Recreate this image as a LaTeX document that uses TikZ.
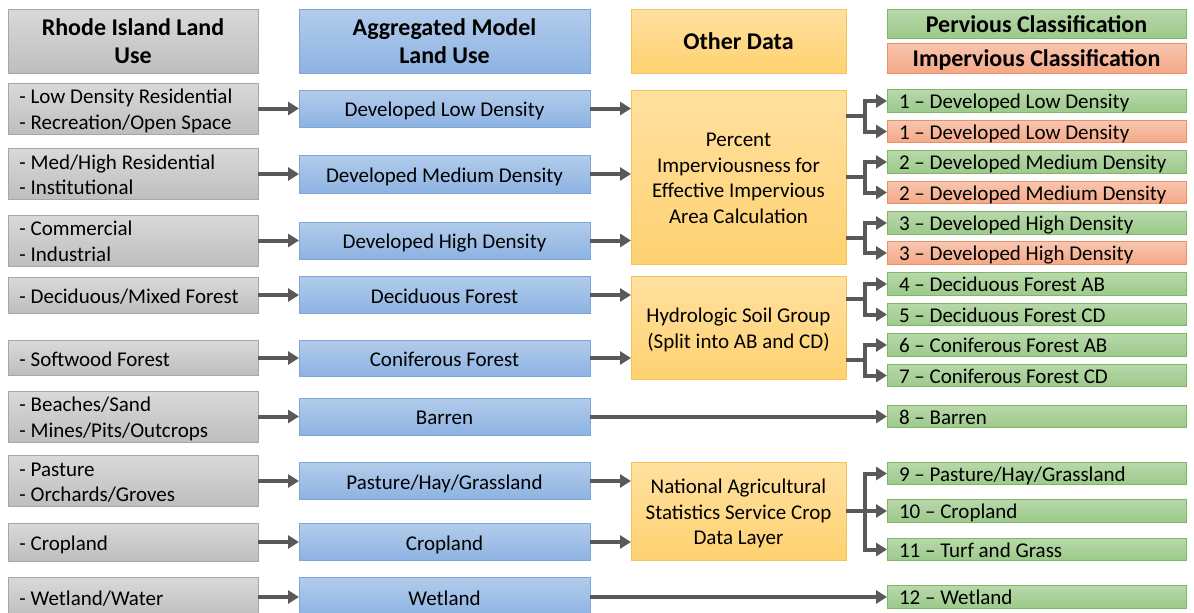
\documentclass[tikz,border=0pt]{standalone}
\usepackage{fontspec}
\setmainfont{Carlito}
\usetikzlibrary{arrows.meta,calc}

\definecolor{graytop}{HTML}{D9D9D9}
\definecolor{graybot}{HTML}{BEBEBE}
\definecolor{grayline}{HTML}{A6A6A6}
\definecolor{bluetop}{HTML}{B2CCEB}
\definecolor{bluebot}{HTML}{8DB3E2}
\definecolor{blueline}{HTML}{7EA6D6}
\definecolor{oratop}{HTML}{FFE09F}
\definecolor{orabot}{HTML}{FFD271}
\definecolor{oraline}{HTML}{F2C35B}
\definecolor{grntop}{HTML}{B8D8AA}
\definecolor{grnbot}{HTML}{9CC98A}
\definecolor{grnline}{HTML}{7FB765}
\definecolor{saltop}{HTML}{F8C6B0}
\definecolor{salbot}{HTML}{F4A886}
\definecolor{salline}{HTML}{E8906A}
\definecolor{arrowgray}{HTML}{595959}

% stacked lines, centred or flush left; the text is lowered a little
% inside an unchanged box so that it sits in the middle of its node
\newcommand\cstack[1]{\raisebox{-0.14em}[\height][\depth]{\begin{tabular}{@{}c@{}}#1\end{tabular}}}
\newcommand\lstack[1]{\raisebox{-0.14em}[\height][\depth]{\begin{tabular}{@{}l@{}}#1\end{tabular}}}

\tikzset{
  box/.style={line width=1pt, inner sep=0pt, outer sep=0pt,
    font=\fontsize{21}{25.5}\selectfont},
  head/.style={font=\fontsize{24}{28}\selectfont\bfseries},
  graycol/.style={box, draw=grayline, top color=graytop, bottom color=graybot, minimum width=250pt},
  bluecol/.style={box, draw=blueline, top color=bluetop, bottom color=bluebot, minimum width=291pt},
  orangecol/.style={box, draw=oraline, top color=oratop, bottom color=orabot, minimum width=215pt},
  greencol/.style={box, draw=grnline, top color=grntop, bottom color=grnbot, minimum width=299pt},
  salmoncol/.style={box, draw=salline, top color=saltop, bottom color=salbot, minimum width=299pt},
  srclist/.style={align=flush left, text width=227pt},
  classlist/.style={align=flush left, text width=275pt, text height=19pt, text depth=3.5pt,
    minimum height=22.5pt},
  stem/.style={draw=arrowgray, line width=4pt},
  conn/.style={stem, -{Triangle[length=11pt,width=13pt]}},
}

\begin{document}
\begin{tikzpicture}[x=1pt,y=-1pt]
\clip (0,0) rectangle (1194,613);
\fill[white] (0,0) rectangle (1194,613);

% column headers
\node[graycol, minimum height=64pt, head] (hRI) at (133,41) {\cstack{Rhode Island Land\\Use}};
\node[bluecol, minimum height=64pt, head] (hAM) at (444.5,41) {\cstack{Aggregated Model\\Land Use}};
\node[orangecol, minimum height=64pt, head] (hOD) at (738.5,41) {\cstack{Other Data}};
\node[greencol, minimum height=29pt, head] (hPC) at (1036.5,23.5) {\cstack{Pervious Classification}};
\node[salmoncol, minimum height=30pt, head] (hIC) at (1036.5,58) {\cstack{Impervious Classification}};

% Rhode Island land use classes
\node[graycol, srclist, minimum height=49pt] (g1) at (133,108.5) {\lstack{- Low Density Residential\\- Recreation/Open Space}};
\node[graycol, srclist, minimum height=50pt] (g2) at (133,174) {\lstack{- Med/High Residential\\- Institutional}};
\node[graycol, srclist, minimum height=49pt] (g3) at (133,240.5) {\lstack{- Commercial\\- Industrial}};
\node[graycol, srclist, minimum height=36pt] (g4) at (133,295) {\lstack{- Deciduous/Mixed Forest}};
\node[graycol, srclist, minimum height=35pt] (g5) at (133,358) {\lstack{- Softwood Forest}};
\node[graycol, srclist, minimum height=49pt] (g6) at (133,416.5) {\lstack{- Beaches/Sand\\- Mines/Pits/Outcrops}};
\node[graycol, srclist, minimum height=49pt] (g7) at (133,481) {\lstack{- Pasture\\- Orchards/Groves}};
\node[graycol, srclist, minimum height=38pt] (g8) at (133,542) {\lstack{- Cropland}};
\node[graycol, srclist, minimum height=40pt] (g9) at (133,597) {\lstack{- Wetland/Water}};

% aggregated model land use
\node[bluecol, minimum height=37pt] (b1) at (444.5,108.5) {\cstack{Developed Low Density}};
\node[bluecol, minimum height=38pt] (b2) at (444.5,174) {\cstack{Developed Medium Density}};
\node[bluecol, minimum height=37pt] (b3) at (444.5,240.5) {\cstack{Developed High Density}};
\node[bluecol, minimum height=37pt] (b4) at (444.5,295) {\cstack{Deciduous Forest}};
\node[bluecol, minimum height=36pt] (b5) at (444.5,358) {\cstack{Coniferous Forest}};
\node[bluecol, minimum height=37pt] (b6) at (444.5,416.5) {\cstack{Barren}};
\node[bluecol, minimum height=37pt] (b7) at (444.5,481) {\cstack{Pasture/Hay/Grassland}};
\node[bluecol, minimum height=37pt] (b8) at (444.5,542) {\cstack{Cropland}};
\node[bluecol, minimum height=40pt] (b9) at (444.5,597) {\cstack{Wetland}};

% other data sources
\node[orangecol, minimum height=174pt] (pI) at (738.5,177) {\cstack{Percent\\Imperviousness for\\Effective Impervious\\Area Calculation}};
\node[orangecol, minimum height=103pt] (hs) at (738.5,327.5) {\cstack{Hydrologic Soil Group\\(Split into AB and CD)}};
\node[orangecol, minimum height=98pt] (na) at (738.5,511) {\cstack{National Agricultural\\Statistics Service Crop\\Data Layer}};

% final classification
\node[greencol, classlist] (c1p) at (1036.5,101) {1 -- Developed Low Density};
\node[salmoncol, classlist] (c1i) at (1036.5,131.5) {1 -- Developed Low Density};
\node[greencol, classlist] (c2p) at (1036.5,162) {2 -- Developed Medium Density};
\node[salmoncol, classlist] (c2i) at (1036.5,192.5) {2 -- Developed Medium Density};
\node[greencol, classlist] (c3p) at (1036.5,223) {3 -- Developed High Density};
\node[salmoncol, classlist] (c3i) at (1036.5,253) {3 -- Developed High Density};
\node[greencol, classlist] (c4) at (1036.5,284) {4 -- Deciduous Forest AB};
\node[greencol, classlist] (c5) at (1036.5,314.5) {5 -- Deciduous Forest CD};
\node[greencol, classlist] (c6) at (1036.5,345) {6 -- Coniferous Forest AB};
\node[greencol, classlist] (c7) at (1036.5,375.5) {7 -- Coniferous Forest CD};
\node[greencol, classlist] (c8) at (1036.5,416.5) {8 -- Barren};
\node[greencol, classlist] (c9) at (1036.5,473.5) {9 -- Pasture/Hay/Grassland};
\node[greencol, classlist] (c10) at (1036.5,511) {10 -- Cropland};
\node[greencol, classlist] (c11) at (1036.5,549.5) {11 -- Turf and Grass};
\node[greencol, classlist] (c12) at (1036.5,597) {12 -- Wetland};

% land use -> aggregated classes
\foreach \i in {1,...,9} {
  \draw[conn] (g\i.east) -- (b\i.west);
}

% aggregated classes -> other data
\draw[conn] (b1.east) -- (b1.east -| pI.west);
\draw[conn] (b2.east) -- (b2.east -| pI.west);
\draw[conn] (b3.east) -- (b3.east -| pI.west);
\draw[conn] (b4.east) -- (b4.east -| hs.west);
\draw[conn] (b5.east) -- (b5.east -| hs.west);
\draw[conn] (b7.east) -- (b7.east -| na.west);
\draw[conn] (b8.east) -- (b8.east -| na.west);

% direct links
\draw[conn] (b6.east) -- (c8.west);
\draw[conn] (b9.east) -- (c12.west);

% branching links into the final classes
\coordinate (br) at (865,0);
\foreach \src/\up/\dn in {pI/c1p/c1i, pI/c2p/c2i, pI/c3p/c3i, hs/c4/c5, hs/c6/c7} {
  \coordinate (j) at ($(\up.west)!.5!(\dn.west)$);
  \draw[stem] (\src.east |- j) -- (j -| br);
  \draw[conn] (j -| br) |- (\up.west);
  \draw[conn] (j -| br) |- (\dn.west);
}
\draw[conn] (na.east |- c10.west) -- (c10.west);
\draw[conn] (c10.west -| br) |- (c9.west);
\draw[conn] (c10.west -| br) |- (c11.west);
\end{tikzpicture}
\end{document}
